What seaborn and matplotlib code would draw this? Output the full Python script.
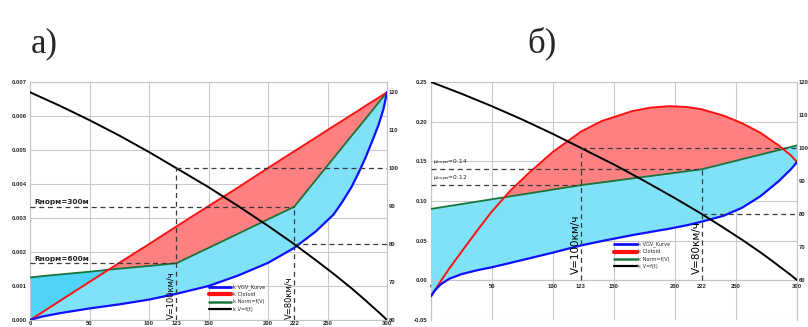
import numpy as np
import matplotlib
matplotlib.use("Agg")
import matplotlib.pyplot as plt
from matplotlib.lines import Line2D
import seaborn as sns

# ---- data -------------------------------------------------------------
# panel a): curvature k (1/m) along the transition, s in m
s_a = [0, 10, 25, 50, 75, 100, 123, 150, 175, 200, 222, 240, 255, 262, 270, 276, 282, 288,
       293, 297, 300]
k_vgv_a = [0.0, 0.0001, 0.0002, 0.00034, 0.00046, 0.0006, 0.00077, 0.001, 0.00131, 0.00168,
           0.00212, 0.0026, 0.0031, 0.00345, 0.0039, 0.00432, 0.00478, 0.0053, 0.00575,
           0.0062, 0.0067]
k_clot_a = [0.0, 0.00022, 0.00056, 0.00112, 0.00168, 0.00223, 0.00275, 0.00335, 0.0039,
            0.00447, 0.00496, 0.00536, 0.0057, 0.00585, 0.00603, 0.00616, 0.0063, 0.00643,
            0.00654, 0.00663, 0.0067]
k_norm_a = [0.00125, 0.00129, 0.00134, 0.00142, 0.00151, 0.00159, 0.00167, 0.00212, 0.00254,
            0.00296, 0.00333, 0.00411, 0.00476, 0.00506, 0.00541, 0.00566, 0.00592, 0.00618,
            0.0064, 0.00657, 0.0067]

# panel б): side-force coefficient along the transition
s_b = [0, 3, 8, 15, 25, 38, 50, 65, 80, 100, 123, 140, 165, 180, 195, 210, 222, 240, 255,
       270, 285, 295, 300]
k_vgv_b = [-0.02, -0.013, -0.005, 0.002, 0.0078, 0.0128, 0.0165, 0.022, 0.0275, 0.035, 0.044,
           0.0495, 0.057, 0.061, 0.065, 0.0695, 0.074, 0.0815, 0.0915, 0.106, 0.125, 0.14, 0.149]
k_clot_b = [-0.02, -0.013, -0.001, 0.015, 0.036, 0.063, 0.087, 0.113, 0.135, 0.162, 0.1875,
            0.2008, 0.2133, 0.2177, 0.2195, 0.2185, 0.2155, 0.2075, 0.198, 0.186, 0.17,
            0.1575, 0.149]
k_norm_b = [0.09, 0.0907, 0.092, 0.0937, 0.0961, 0.0993, 0.1022, 0.1059, 0.1095, 0.1144, 0.12,
            0.1234, 0.1285, 0.1315, 0.1345, 0.1376, 0.14, 0.1469, 0.1527, 0.1585, 0.1642,
            0.1681, 0.17]

# speed V (km/h) along the transition
s_v = [0, 25, 50, 75, 100, 123, 150, 175, 200, 222, 240, 255, 270, 280, 290, 295, 300]
speed = [120, 116.45, 112.65, 108.6, 104.25, 100, 95.0, 90.0, 84.8, 80, 75.8, 72.2, 68.4,
         65.7, 62.9, 61.5, 60]

mark_s = [123, 222]
mark_v = [100, 80]
r_norm = [600, 300]
mu_norm = [0.12, 0.14]

x_major = [0, 50, 100, 150, 200, 250, 300]
legend_labels = ["k VGV_Kurve", "k Clotoid", "k Norm=f(V)", "k V=f(t)"]

# ---- style ------------------------------------------------------------
sns.set_theme(style="white")
plt.rcParams["font.family"] = ["DejaVu Sans"]
plt.rcParams["mathtext.fontset"] = "dejavusans"

C_BLUE = "#1010ff"
C_RED = "#ff1010"
C_GREEN = "#16753a"
C_CYAN = "#80e2f8"
C_CYAN_DARK = "#4fd3f6"
C_SALMON = "#ff8080"
C_DASH = "#3a3a3a"
C_GRID = "#c9c9c9"

fig = plt.figure(figsize=(8.08, 3.27), dpi=100)
ax_a = fig.add_axes([30 / 808, 7 / 327, 357 / 808, 238 / 327])
ax_b = fig.add_axes([431 / 808, 7 / 327, 366 / 808, 238 / 327])


def style_ticks(ax, labelsize=4.2, pad=2.5):
    ax.tick_params(which="both", length=0, labelsize=labelsize, pad=pad)
    for lbl in ax.get_xticklabels(which="both") + ax.get_yticklabels():
        lbl.set_fontweight("bold")
        lbl.set_family("Liberation Sans")


def draw_panel(ax, s, k_vgv, k_clot, k_norm, ylim, vlim, norm_levels, yfmt, dark_overlap):
    s = np.asarray(s)
    k_vgv = np.asarray(k_vgv)
    k_clot = np.asarray(k_clot)
    k_norm = np.asarray(k_norm)

    ax.fill_between(s, k_vgv, k_norm, color=C_CYAN, lw=0, zorder=1)
    ax.fill_between(s, k_clot, k_norm, where=k_clot >= k_norm, interpolate=True,
                    color=C_SALMON, lw=0, zorder=1)
    if dark_overlap:
        ax.fill_between(s, k_clot, k_norm, where=k_norm >= k_clot, interpolate=True,
                        color=C_CYAN_DARK, lw=0, zorder=1)

    sns.lineplot(x=s, y=k_norm, ax=ax, color=C_GREEN, lw=1.3, estimator=None, sort=False, zorder=3)
    sns.lineplot(x=s, y=k_clot, ax=ax, color=C_RED, lw=1.4, estimator=None, sort=False, zorder=3)
    sns.lineplot(x=s, y=k_vgv, ax=ax, color=C_BLUE, lw=1.6, estimator=None, sort=False, zorder=3)

    ax.set_xlim(0, 300)
    ax.set_ylim(*ylim)
    ax.set_xlabel("")
    ax.set_ylabel("")
    ax.set_xticks(x_major)
    ax.set_xticks(mark_s, minor=True)
    ax.set_xticklabels([str(v) for v in mark_s], minor=True)
    ax.yaxis.set_major_formatter(plt.FormatStrFormatter(yfmt))
    ax.grid(True, which="major", color=C_GRID, lw=0.8)
    ax.set_axisbelow(True)
    for sp in ax.spines.values():
        sp.set_color("#c4c4c4")
        sp.set_linewidth(0.8)

    axv = ax.twinx()
    sns.lineplot(x=s_v, y=speed, ax=axv, color="black", lw=1.4, estimator=None, sort=False, zorder=4)
    axv.set_ylim(*vlim)
    axv.set_ylabel("")
    axv.set_yticks(range(60, 121, 10))
    axv.grid(False)
    for sp in axv.spines.values():
        sp.set_visible(False)

    dash = dict(color=C_DASH, lw=0.9, linestyles=(0, (4, 3)), zorder=5)
    k_lo, k_hi = ylim
    v_lo, v_hi = vlim
    for xs, v, lvl in zip(mark_s, mark_v, norm_levels):
        ax.hlines(lvl, 0, xs, **dash)
        axv.hlines(v, xs, 300, **dash)
        v_as_k = k_lo + (v - v_lo) / (v_hi - v_lo) * (k_hi - k_lo)
        ax.vlines(xs, 0, max(lvl, v_as_k), **dash)

    style_ticks(ax)
    style_ticks(axv, pad=1.5)
    return axv


axv_a = draw_panel(ax_a, s_a, k_vgv_a, k_clot_a, k_norm_a, (0, 0.007), (60, 122.7),
                   [1 / r for r in r_norm], "%.3f", True)
axv_b = draw_panel(ax_b, s_b, k_vgv_b, k_clot_b, k_norm_b, (-0.05, 0.25), (47.9, 120),
                   mu_norm, "%.2f", False)

ax_a.set_yticks(np.arange(0, 0.0071, 0.001))
ax_b.set_yticks(np.arange(-0.05, 0.251, 0.05))
ax_b.spines["bottom"].set_position(("data", 0))
style_ticks(ax_a)
ax_a.tick_params(axis="x", which="both", pad=1.0)
style_ticks(ax_b)

# norm labels
for r in r_norm:
    ax_a.annotate(f"Rнорм={r}м", xy=(4, 1 / r), xytext=(0, 1.2), textcoords="offset points",
                  fontsize=5.3, fontweight="bold", va="bottom", ha="left", color="#222222", zorder=6)
for mu in mu_norm:
    ax_b.annotate(r"$\mu_{\mathrm{норм}}$" + f"={mu:.2f}", xy=(2, mu), xytext=(0, 1.0),
                  textcoords="offset points", fontsize=4.2, va="bottom", ha="left",
                  color="#222222", zorder=6)

# speed labels beside the vertical markers
for axv, fs, dy in [(axv_a, 6.0, 1), (axv_b, 7.5, 6)]:
    for xs, v in zip(mark_s, mark_v):
        axv.annotate(f"V={v}км/ч", xy=(xs, 60), xytext=(-5, dy), textcoords="offset pixels",
                     rotation=90, fontsize=fs, ha="center", va="bottom", color="black", zorder=7)

# legends
handles = [Line2D([], [], color=C_BLUE, lw=2.0),
           Line2D([], [], color=C_RED, lw=3.0),
           Line2D([], [], color=C_GREEN, lw=1.8),
           Line2D([], [], color="black", lw=1.6)]
for axv, anchor in [(axv_a, (0.5, 0.15)), (axv_b, (0.5, 0.33))]:
    leg = axv.legend(handles, legend_labels, loc="upper left", bbox_to_anchor=anchor,
                     frameon=False, fontsize=3.6, handlelength=4.5, handletextpad=0.4,
                     labelspacing=0.45, borderaxespad=0, borderpad=0)
    leg.set_zorder(10)

# panel captions
fig.text(31 / 808, 1 - 52 / 327, "а)", fontsize=25, family="Liberation Serif", va="baseline")
fig.text(527 / 808, 1 - 52 / 327, "б)", fontsize=25, family="Liberation Serif", va="baseline")

fig.savefig("out.png", dpi=100)
